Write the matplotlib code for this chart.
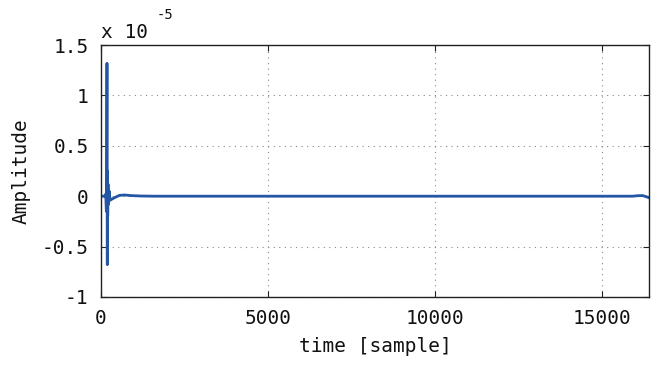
import matplotlib
matplotlib.use('Agg')
import matplotlib.pyplot as plt

# impulse response (amplitude in units of 1e-5)
sample = [0, 100, 140, 160, 170, 178, 182, 188, 194, 200, 210, 225, 245,
          270, 320, 420, 550, 700, 900, 1200, 1600, 15900, 16050, 16200,
          16300, 16384]
amp = [0.0, 0.0, 0.02, -0.15, 0.2, 1.32, 0.1, -0.68, 0.25, -0.2, 0.12,
       -0.08, 0.05, -0.04, -0.03, -0.012, 0.008, 0.012, 0.006, 0.002, 0.0,
       0.0, 0.005, 0.006, -0.004, -0.015]

xticks = [0, 5000, 10000, 15000]
yticks = [-1, -0.5, 0, 0.5, 1, 1.5]
yticklabels = ['-1', '-0.5', '0', '0.5', '1', '1.5']

plt.rcParams['font.family'] = ['DejaVu Sans Mono', 'DejaVu Sans']
plt.rcParams['font.size'] = 14

fig = plt.figure(figsize=(6.62, 3.67), dpi=100)
ax = fig.add_axes([0.1526, 0.191, 0.8274, 0.686])
ax.plot(sample, amp, color='#2456a6', linewidth=2.0)

ax.set_xlim(0, 16384)
ax.set_ylim(-1, 1.5)
ax.set_xticks(xticks)
ax.set_yticks(yticks)
ax.set_yticklabels(yticklabels)
ax.tick_params(direction='in', length=4, width=0.8, colors='#222222',
               labelcolor='#111111', top=True, right=True)
ax.tick_params(axis='x', pad=9)
ax.tick_params(axis='y', pad=9)
ax.grid(True, linestyle=(0, (1, 4)), color='#888888', linewidth=0.8)
for s in ax.spines.values():
    s.set_linewidth(1.0)
    s.set_color('#222222')

ax.set_xlabel('time [sample]', labelpad=6, color='#111111')
ax.set_ylabel('Amplitude', labelpad=8, color='#111111')

fig.text(0.152, 0.885, 'x 10', fontsize=14, ha='left', va='bottom',
         color='#111111')
fig.text(0.237, 0.94, '-5', fontsize=10, ha='left', va='bottom',
         color='#111111')

fig.savefig('out.png', dpi=100)
